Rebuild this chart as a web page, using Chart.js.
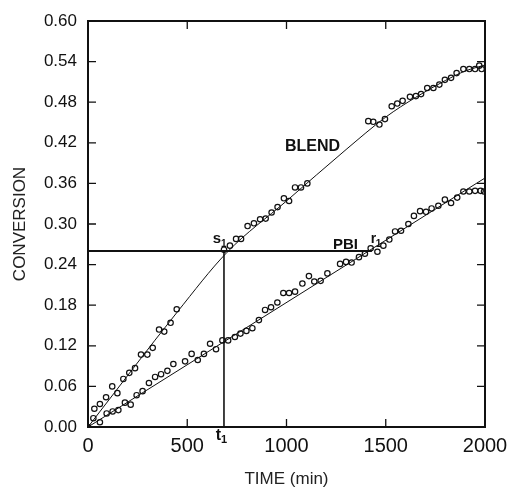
<!DOCTYPE html>
<html>
<head>
<meta charset="utf-8">
<script src="https://cdn.jsdelivr.net/npm/chart.js@4.4.1/dist/chart.umd.min.js"></script>
<style>
html,body{margin:0;padding:0;background:#fff;}
#wrap{width:508px;height:489px;position:relative;}
</style>
</head>
<body>
<div id="wrap"><canvas id="c" width="508" height="489"></canvas></div>
<script>
// ---- data ----
const xTicks = [0, 500, 1000, 1500, 2000];
const yTicks = [0, 0.06, 0.12, 0.18, 0.24, 0.30, 0.36, 0.42, 0.48, 0.54, 0.60];

const blendTime = [27,32,60,91,122,148,178,208,237,267,299,326,358,384,416,447,
  685,715,746,771,804,836,867,895,925,955,987,1013,1043,1073,1105,
  1412,1437,1468,1496,1530,1558,1585,1622,1652,1678,1709,1740,1770,1798,1829,1857,1891,1921,1950,1971,1983];
const blendConv = [0.013,0.027,0.034,0.044,0.060,0.050,0.071,0.080,0.087,0.107,0.107,0.117,0.144,0.141,0.154,0.174,
  0.262,0.268,0.278,0.278,0.297,0.301,0.307,0.308,0.317,0.325,0.338,0.334,0.354,0.354,0.360,
  0.452,0.451,0.447,0.455,0.474,0.478,0.482,0.488,0.489,0.492,0.501,0.501,0.506,0.513,0.516,0.523,0.529,0.529,0.529,0.534,0.529];

const pbiTime = [60,94,124,153,186,215,245,275,307,338,368,400,430,489,522,553,584,615,645,677,
  706,740,768,798,828,861,892,922,954,984,1013,1043,1080,1113,1140,1172,1206,1270,1300,1328,
  1365,1395,1424,1458,1488,1518,1547,1577,1614,1642,1673,1703,1731,1765,1798,1829,1860,1891,1921,1950,1978,1995];
const pbiConv = [0.007,0.020,0.023,0.025,0.036,0.033,0.047,0.053,0.065,0.074,0.078,0.083,0.093,0.097,0.108,0.099,0.108,0.123,0.115,0.128,
  0.128,0.133,0.138,0.142,0.146,0.158,0.173,0.177,0.184,0.198,0.198,0.200,0.212,0.223,0.215,0.216,0.227,0.241,0.244,0.243,
  0.251,0.256,0.264,0.259,0.268,0.277,0.289,0.290,0.300,0.312,0.319,0.318,0.323,0.327,0.336,0.331,0.339,0.348,0.348,0.349,0.349,0.348];

// fitted curves (knots)
const blendFitTime = [0, 450, 700, 1000, 1300, 1500, 1650, 1800, 1900, 2000];
const blendFitConv = [0, 0.170, 0.258, 0.334, 0.410, 0.458, 0.487, 0.512, 0.526, 0.535];
const pbiFitTime = [0, 2000];
const pbiFitConv = [0, 0.368];

// construction lines
const t1 = 685;
const cLevel = 0.26;
const r1Time = 1430;

const zip = (a, b) => a.map((v, i) => ({x: v, y: b[i]}));
const INK = '#111';
const FONT = "'Liberation Sans', Arial, Helvetica, sans-serif";

const decor = {
  id: 'decor',
  afterDraw(chart) {
    const {ctx, chartArea: a, scales: {x, y}} = chart;
    ctx.save();
    ctx.strokeStyle = INK;
    // frame
    ctx.lineWidth = 2;
    ctx.strokeRect(a.left, a.top, a.right - a.left, a.bottom - a.top);
    // inward ticks
    ctx.lineWidth = 1.3;
    const L = 8;
    ctx.beginPath();
    x.ticks.forEach(t => {
      const px = x.getPixelForValue(t.value);
      ctx.moveTo(px, a.bottom); ctx.lineTo(px, a.bottom - L);
      ctx.moveTo(px, a.top); ctx.lineTo(px, a.top + L);
    });
    y.ticks.forEach(t => {
      const py = y.getPixelForValue(t.value);
      ctx.moveTo(a.left, py); ctx.lineTo(a.left + L, py);
      ctx.moveTo(a.right, py); ctx.lineTo(a.right - L, py);
    });
    ctx.stroke();
    // labels
    ctx.fillStyle = INK;
    ctx.textBaseline = 'alphabetic';
    ctx.textAlign = 'left';
    ctx.font = 'bold 16px ' + FONT;
    ctx.fillText('BLEND', 285, 151);
    ctx.font = 'bold 15px ' + FONT;
    ctx.fillText('PBI', 333, 249);
    // r1
    const rx = x.getPixelForValue(r1Time), cy = y.getPixelForValue(cLevel);
    ctx.font = 'bold 14px ' + FONT;
    ctx.fillText('r', rx - 1, cy - 8);
    ctx.font = 'bold 10px ' + FONT;
    ctx.fillText('1', rx + 4, cy - 4);
    // s1
    const sx = x.getPixelForValue(t1);
    ctx.font = 'bold 15px ' + FONT;
    ctx.textAlign = 'right';
    ctx.fillText('s', sx - 3, cy - 8);
    ctx.textAlign = 'left';
    ctx.font = 'bold 10px ' + FONT;
    ctx.fillText('1', sx - 3, cy - 4);
    // t1
    ctx.font = 'bold 16px ' + FONT;
    ctx.textAlign = 'right';
    ctx.fillText('t', sx - 3, a.bottom + 13);
    ctx.textAlign = 'left';
    ctx.font = 'bold 11px ' + FONT;
    ctx.fillText('1', sx - 3, a.bottom + 16);
    ctx.restore();
  }
};

new Chart(document.getElementById('c'), {
  type: 'scatter',
  data: {
    datasets: [
      {data: zip(blendFitTime, blendFitConv), showLine: true, pointRadius: 0, borderColor: INK, borderWidth: 1, cubicInterpolationMode: 'monotone'},
      {data: zip(pbiFitTime, pbiFitConv), showLine: true, pointRadius: 0, borderColor: INK, borderWidth: 1},
      {data: [{x: 0, y: cLevel}, {x: r1Time, y: cLevel}], showLine: true, pointRadius: 0, borderColor: INK, borderWidth: 2},
      {data: [{x: t1, y: 0}, {x: t1, y: cLevel}], showLine: true, pointRadius: 0, borderColor: INK, borderWidth: 1.6},
      {data: zip(blendTime, blendConv), pointRadius: 2.7, borderWidth: 1.2, borderColor: INK, backgroundColor: 'rgba(255,255,255,0)'},
      {data: zip(pbiTime, pbiConv), pointRadius: 2.7, borderWidth: 1.2, borderColor: INK, backgroundColor: 'rgba(255,255,255,0)'},
      {data: [{x: 0, y: 0}], pointRadius: 3, borderWidth: 1, borderColor: INK, backgroundColor: INK}
    ]
  },
  options: {
    responsive: false,
    animation: false,
    events: [],
    layout: {padding: {top: 21, right: 23, left: 0, bottom: 0}},
    plugins: {legend: {display: false}, tooltip: {enabled: false}},
    scales: {
      x: {
        type: 'linear', min: 0, max: 2000,
        afterBuildTicks: s => { s.ticks = xTicks.map(v => ({value: v})); },
        afterFit: s => { s.height = 62; s.paddingLeft = 0; s.paddingRight = 0; },
        grid: {display: false, drawTicks: false}, border: {display: false},
        ticks: {color: INK, font: {family: FONT, size: 20}, padding: 7, maxRotation: 0, autoSkip: false, callback: v => String(v)},
        title: {display: true, text: 'TIME (min)', color: '#222', font: {family: FONT, size: 17}, padding: {top: 0, bottom: -1}}
      },
      y: {
        type: 'linear', min: 0, max: 0.6,
        afterBuildTicks: s => { s.ticks = yTicks.map(v => ({value: v})); },
        afterFit: s => { s.width = 88; s.paddingTop = 0; s.paddingBottom = 0; },
        grid: {display: false, drawTicks: false}, border: {display: false},
        ticks: {color: INK, font: {family: FONT, size: 17}, padding: 11, autoSkip: false, callback: v => Number(v).toFixed(2)},
        title: {display: true, text: 'CONVERSION', color: '#222', font: {family: FONT, size: 17}, padding: {top: 10, bottom: 0}}
      }
    }
  },
  plugins: [decor]
});
</script>
</body>
</html>
